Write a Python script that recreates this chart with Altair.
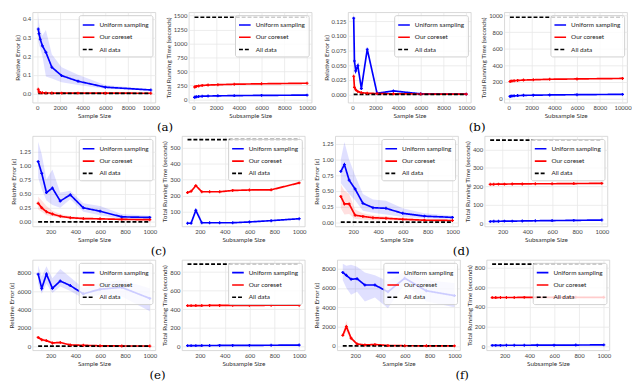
import altair as alt
import pandas as pd

SERIES = ["Uniform sampling", "Our coreset", "All data"]
X_BIG = [100, 167, 278, 464, 774, 1292, 2154, 3594, 5995, 10000]
X_SMALL = [100, 129, 167, 215, 278, 359, 464, 599, 774, 1000]

# ---- (a)
A_ERR_UNI = [0.345, 0.32, 0.29, 0.255, 0.22, 0.14, 0.095, 0.065, 0.033, 0.018]
A_ERR_UNI_LO = [0.28, 0.26, 0.24, 0.20, 0.09, 0.08, 0.06, 0.045, 0.025, 0.015]
A_ERR_UNI_HI = [0.42, 0.38, 0.34, 0.31, 0.34, 0.21, 0.14, 0.10, 0.045, 0.022]
A_ERR_COR = [0.022, 0.008, 0.004, 0.003, 0.002, 0.0015, 0.001, 0.001, 0.0008, 0.0005]
A_ERR_COR_LO = [0.012, 0.004, 0.002, 0.001, 0.001, 0.001, 0.0005, 0.0005, 0.0004, 0.0003]
A_ERR_COR_HI = [0.030, 0.012, 0.006, 0.005, 0.003, 0.002, 0.0015, 0.0012, 0.001, 0.0007]
A_TIME_UNI = [35, 40, 45, 50, 55, 58, 62, 66, 70, 75]
A_TIME_COR = [220, 225, 232, 240, 248, 255, 262, 270, 278, 288]
A_TIME_ALL = 1470

# ---- (b)
B_ERR_UNI = [0.13, 0.057, 0.04, 0.049, 0.01, 0.077, 0.002, 0.006, 0.001, 0.0005]
B_ERR_COR = [0.031, 0.012, 0.008, 0.005, 0.003, 0.002, 0.0015, 0.001, 0.0007, 0.0005]
B_TIME_UNI = [25, 28, 30, 32, 35, 38, 40, 43, 46, 50]
B_TIME_COR = [205, 208, 212, 215, 218, 222, 226, 232, 236, 242]
B_TIME_ALL = 980

# ---- (c)
C_ERR_UNI = [1.07, 0.86, 0.52, 0.60, 0.37, 0.48, 0.25, 0.19, 0.09, 0.08]
C_ERR_UNI_LO = [0.78, 0.58, 0.38, 0.30, 0.25, 0.40, 0.18, 0.12, 0.05, 0.05]
C_ERR_UNI_HI = [1.42, 1.20, 0.75, 0.93, 0.52, 0.55, 0.33, 0.28, 0.14, 0.11]
C_ERR_COR = [0.33, 0.25, 0.18, 0.14, 0.10, 0.075, 0.06, 0.055, 0.045, 0.04]
C_ERR_COR_LO = [0.22, 0.18, 0.12, 0.10, 0.07, 0.055, 0.045, 0.04, 0.035, 0.03]
C_ERR_COR_HI = [0.45, 0.38, 0.28, 0.20, 0.14, 0.10, 0.08, 0.07, 0.055, 0.05]
C_TIME_UNI = [30, 30, 110, 33, 33, 33, 33, 38, 46, 58]
C_TIME_COR = [220, 228, 263, 225, 225, 225, 233, 236, 237, 280]
C_TIME_ALL = 548

# ---- (d)
D_ERR_UNI = [0.81, 0.92, 0.67, 0.53, 0.30, 0.23, 0.22, 0.14, 0.095, 0.075]
D_ERR_UNI_LO = [0.62, 0.55, 0.45, 0.35, 0.18, 0.15, 0.12, 0.08, 0.06, 0.05]
D_ERR_UNI_HI = [1.00, 1.28, 1.00, 0.75, 0.45, 0.36, 0.34, 0.22, 0.14, 0.10]
D_ERR_COR = [0.41, 0.29, 0.29, 0.11, 0.09, 0.07, 0.06, 0.045, 0.03, 0.025]
D_ERR_COR_LO = [0.22, 0.12, 0.13, 0.05, 0.04, 0.03, 0.03, 0.02, 0.015, 0.01]
D_ERR_COR_HI = [0.60, 0.50, 0.45, 0.20, 0.14, 0.11, 0.09, 0.07, 0.05, 0.04]
D_TIME_UNI = [9, 10, 10, 11, 11, 12, 13, 14, 15, 17]
D_TIME_COR = [211, 211, 212, 212, 213, 213, 214, 214, 215, 216]
D_TIME_ALL = 451

# ---- (e)
E_ERR_UNI = [7850, 6300, 7850, 6300, 7100, 6600, 5700, 6200, 6400, 5200]
E_ERR_UNI_LO = [6800, 5700, 6800, 5800, 6500, 6000, 5200, 5600, 5400, 3800]
E_ERR_UNI_HI = [8800, 7600, 8700, 7400, 8400, 7500, 6300, 6900, 7200, 6300]
E_ERR_COR = [950, 700, 600, 350, 400, 130, 90, 40, 20, 10]
E_ERR_COR_LO = [800, 550, 450, 250, 300, 80, 50, 20, 10, 5]
E_ERR_COR_HI = [1100, 850, 750, 450, 500, 180, 130, 60, 30, 15]
E_TIME_UNI = [10, 10, 10, 11, 11, 12, 12, 13, 14, 16]
E_TIME_COR = [440, 440, 441, 441, 442, 442, 443, 443, 444, 445]
E_TIME_ALL = 886

# ---- (f)
F_ERR_UNI = [7600, 7300, 6900, 6950, 6300, 6300, 5600, 7000, 5700, 5200]
F_ERR_UNI_LO = [6800, 6000, 5300, 5600, 4600, 5000, 3900, 6400, 4600, 4000]
F_ERR_UNI_HI = [8500, 8300, 8400, 8200, 7600, 7300, 6700, 7700, 6800, 6500]
F_ERR_COR = [1100, 2000, 800, 200, 100, 150, 40, 20, 10, 5]
F_ERR_COR_LO = [900, 1500, 600, 120, 60, 100, 20, 10, 5, 2]
F_ERR_COR_HI = [1300, 2600, 1000, 300, 150, 200, 60, 30, 15, 8]
F_TIME_UNI = [10, 10, 10, 11, 11, 11, 12, 12, 13, 15]
F_TIME_COR = [495, 495, 496, 496, 496, 497, 497, 497, 498, 498]
F_TIME_ALL = 834

BLUE = "#0000ff"
RED = "#ff0000"
FONT = "Lato"
W, H = 125, 92

BIG_DOM, BIG_TICKS = [-400, 10400], [0, 2000, 4000, 6000, 8000, 10000]
SMALL_DOM, SMALL_TICKS = [55, 1045], [200, 400, 600, 800, 1000]

ERR_TITLE = "Relative Error (ε)"
TIME_TITLE = "Total Running Time (seconds)"


def panel(xs, uni, cor, all_val, xdom, xticks, ydom, yticks, yfmt, xtitle, ytitle,
          bands=None):
    def xe(field="x"):
        return alt.X(f"{field}:Q", scale=alt.Scale(domain=xdom, nice=False, zero=False),
                     axis=alt.Axis(values=xticks, title=xtitle, format="d"))

    def ye(field="y"):
        return alt.Y(f"{field}:Q", scale=alt.Scale(domain=ydom, nice=False, zero=False),
                     axis=alt.Axis(values=yticks, title=ytitle, format=yfmt))

    rows = []
    for s, ys in [(SERIES[0], uni), (SERIES[1], cor)]:
        for x, y in zip(xs, ys):
            rows.append({"x": x, "y": y, "series": s})
    rows.append({"x": xs[0], "y": all_val, "series": SERIES[2]})
    rows.append({"x": xs[-1], "y": all_val, "series": SERIES[2]})
    df = pd.DataFrame(rows)

    layers = []
    if bands:
        for (lo, hi), col in zip(bands, [BLUE, RED]):
            bdf = pd.DataFrame({"x": xs, "lo": lo, "hi": hi})
            layers.append(alt.Chart(bdf).mark_area(color=col, opacity=0.12).encode(
                x=xe(), y=ye("lo"), y2="hi:Q"))

    leg = alt.Legend(title=None, orient="top-right", symbolType="stroke")
    lines = alt.Chart(df).mark_line(strokeWidth=1.7).encode(
        x=xe(), y=ye(),
        color=alt.Color("series:N", scale=alt.Scale(domain=SERIES, range=[BLUE, RED, "#000000"]),
                        legend=leg),
        strokeDash=alt.StrokeDash("series:N",
                                  scale=alt.Scale(domain=SERIES, range=[[1, 0], [1, 0], [4, 2]]),
                                  legend=leg),
        order="x:Q",
    )
    layers.append(lines)
    for s, col in [(SERIES[0], BLUE), (SERIES[1], RED)]:
        pdf = df[df["series"] == s]
        layers.append(alt.Chart(pdf).mark_point(shape="cross", filled=True, size=9,
                                                color=col, opacity=1).encode(x=xe(), y=ye()))
    return alt.layer(*layers).properties(width=W, height=H)


def pair(label, err, time):
    return alt.hconcat(err, time, spacing=4).resolve_scale(
        color="independent", strokeDash="independent").properties(
        title=alt.TitleParams(label, orient="bottom", anchor="middle", fontSize=12,
                              font="DejaVu Serif", fontWeight="normal", color="#000", offset=3))


pa = pair("(a)",
          panel(X_BIG, A_ERR_UNI, A_ERR_COR, 0, BIG_DOM, BIG_TICKS, [-0.05, 0.435],
                [0, 0.1, 0.2, 0.3, 0.4], ".1f", "Sample Size", ERR_TITLE,
                bands=[(A_ERR_UNI_LO, A_ERR_UNI_HI), (A_ERR_COR_LO, A_ERR_COR_HI)]),
          panel(X_BIG, A_TIME_UNI, A_TIME_COR, A_TIME_ALL, BIG_DOM, BIG_TICKS, [-60, 1560],
                [0, 250, 500, 750, 1000, 1250, 1500], "d", "Subsample Size", TIME_TITLE))
pb = pair("(b)",
          panel(X_BIG, B_ERR_UNI, B_ERR_COR, 0, BIG_DOM, BIG_TICKS, [-0.014, 0.14],
                [0, 0.025, 0.05, 0.075, 0.1, 0.125], ".3f", "Sample Size", ERR_TITLE),
          panel(X_BIG, B_TIME_UNI, B_TIME_COR, B_TIME_ALL, BIG_DOM, BIG_TICKS, [-50, 1040],
                [0, 200, 400, 600, 800, 1000], "d", "Subsample Size", TIME_TITLE))
pc = pair("(c)",
          panel(X_SMALL, C_ERR_UNI, C_ERR_COR, 0, SMALL_DOM, SMALL_TICKS, [-0.08, 1.52],
                [0, 0.25, 0.5, 0.75, 1.0, 1.25], ".2f", "Sample Size", ERR_TITLE,
                bands=[(C_ERR_UNI_LO, C_ERR_UNI_HI), (C_ERR_COR_LO, C_ERR_COR_HI)]),
          panel(X_SMALL, C_TIME_UNI, C_TIME_COR, C_TIME_ALL, SMALL_DOM, SMALL_TICKS, [10, 570],
                [100, 200, 300, 400, 500], "d", "Subsample Size", TIME_TITLE))
pd_ = pair("(d)",
           panel(X_SMALL, D_ERR_UNI, D_ERR_COR, 0, SMALL_DOM, SMALL_TICKS, [-0.07, 1.375],
                 [0, 0.25, 0.5, 0.75, 1.0, 1.25], ".2f", "Sample Size", ERR_TITLE,
                 bands=[(D_ERR_UNI_LO, D_ERR_UNI_HI), (D_ERR_COR_LO, D_ERR_COR_HI)]),
           panel(X_SMALL, D_TIME_UNI, D_TIME_COR, D_TIME_ALL, SMALL_DOM, SMALL_TICKS, [-18, 473],
                 [0, 100, 200, 300, 400], "d", "Subsample Size", TIME_TITLE))
pe = pair("(e)",
          panel(X_SMALL, E_ERR_UNI, E_ERR_COR, 0, SMALL_DOM, SMALL_TICKS, [-450, 9400],
                [0, 2000, 4000, 6000, 8000], "d", "Sample Size", ERR_TITLE,
                bands=[(E_ERR_UNI_LO, E_ERR_UNI_HI), (E_ERR_COR_LO, E_ERR_COR_HI)]),
          panel(X_SMALL, E_TIME_UNI, E_TIME_COR, E_TIME_ALL, SMALL_DOM, SMALL_TICKS, [-40, 932],
                [0, 200, 400, 600, 800], "d", "Subsample Size", TIME_TITLE))
pf = pair("(f)",
          panel(X_SMALL, F_ERR_UNI, F_ERR_COR, 0, SMALL_DOM, SMALL_TICKS, [-450, 8900],
                [0, 2000, 4000, 6000, 8000], "d", "Sample Size", ERR_TITLE,
                bands=[(F_ERR_UNI_LO, F_ERR_UNI_HI), (F_ERR_COR_LO, F_ERR_COR_HI)]),
          panel(X_SMALL, F_TIME_UNI, F_TIME_COR, F_TIME_ALL, SMALL_DOM, SMALL_TICKS, [-40, 878],
                [0, 200, 400, 600, 800], "d", "Subsample Size", TIME_TITLE))


def row(a, b):
    return alt.hconcat(a, b, spacing=6).resolve_scale(color="independent",
                                                      strokeDash="independent")


chart = alt.vconcat(row(pa, pb), row(pc, pd_), row(pe, pf), spacing=2).resolve_scale(
    color="independent", strokeDash="independent").properties(
    padding={"left": 0, "top": 0, "right": 0, "bottom": 0}
).configure_view(stroke="#d0d0d0", strokeWidth=0.8).configure_axis(
    grid=True, gridColor="#e8e8e8", gridWidth=0.8, domain=False, ticks=False,
    labelFont=FONT, labelFontSize=6, labelColor="#444", labelPadding=2,
    titleFont=FONT, titleFontSize=6.5, titleFontWeight="normal", titleColor="#333",
    titlePadding=2
).configure_legend(
    labelFont=FONT, labelFontSize=6.5, labelColor="#222", padding=3, rowPadding=1.5,
    symbolSize=140, symbolStrokeWidth=1.6, labelOffset=4,
    fillColor="rgba(255,255,255,0.8)", strokeColor="#d0d0d0", cornerRadius=2, offset=3
)

chart.save("out.html", embed_options={"renderer": "svg", "actions": False})
